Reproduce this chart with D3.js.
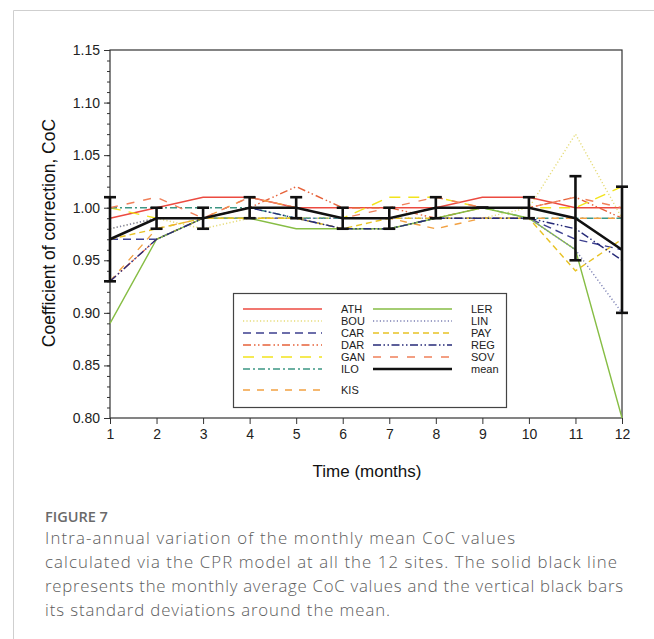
<!DOCTYPE html>
<html>
<head>
<meta charset="utf-8">
<script src="https://cdn.jsdelivr.net/npm/d3@7"></script>
<style>
  body { margin: 0; background: #fff; }
  svg { display: block; }
</style>
</head>
<body>
<div id="chart"></div>
<script>
"use strict";

// monthly CoC values
var months = [1, 2, 3, 4, 5, 6, 7, 8, 9, 10, 11, 12];
var ATH = [0.99, 1.00, 1.01, 1.01, 1.00, 1.00, 1.00, 1.00, 1.01, 1.01, 1.00, 1.00];
var BOU = [0.98, 0.99, 0.98, 0.99, 0.99, 0.98, 0.98, 0.99, 0.99, 1.00, 1.07, 0.99];
var CAR = [0.97, 0.97, 0.99, 0.99, 0.99, 0.98, 0.98, 0.99, 0.99, 0.99, 0.97, 0.96];
var DAR = [0.93, 0.97, 0.99, 1.00, 1.02, 1.00, 1.00, 0.99, 1.00, 1.00, 1.01, 0.99];
var GAN = [1.00, 0.99, 0.99, 0.99, 0.99, 0.99, 1.01, 1.01, 1.00, 1.00, 1.00, 1.02];
var ILO = [1.00, 1.00, 1.00, 1.00, 0.99, 0.99, 0.99, 1.00, 1.00, 0.99, 0.99, 0.99];
var KIS = [0.93, 0.98, 0.99, 1.01, 1.00, 0.99, 0.99, 0.98, 0.99, 0.99, 0.99, 0.99];
var LER = [0.89, 0.97, 0.99, 0.99, 0.98, 0.98, 0.98, 0.99, 1.00, 0.99, 0.96, 0.80];
var LIN = [0.98, 0.99, 0.99, 0.99, 0.99, 0.99, 0.99, 0.99, 0.99, 0.99, 0.96, 0.90];
var PAY = [0.97, 0.98, 0.99, 0.99, 0.99, 0.98, 0.99, 0.99, 0.99, 0.99, 0.94, 0.97];
var REG = [0.93, 0.97, 0.99, 1.00, 0.99, 0.98, 0.98, 0.99, 0.99, 0.99, 0.98, 0.95];
var SOV = [1.00, 1.01, 0.99, 1.01, 1.00, 0.99, 1.00, 1.01, 1.00, 1.00, 1.01, 1.00];
var meanCoC = [0.97, 0.99, 0.99, 1.00, 1.00, 0.99, 0.99, 1.00, 1.00, 1.00, 0.99, 0.96];
var sdCoC = [0.04, 0.01, 0.01, 0.01, 0.01, 0.01, 0.01, 0.01, 0.00, 0.01, 0.04, 0.06];
var yTickValues = [0.80, 0.85, 0.90, 0.95, 1.00, 1.05, 1.10, 1.15];

var sites = [
    {name: "ATH", values: ATH}, {name: "BOU", values: BOU}, {name: "CAR", values: CAR},
    {name: "DAR", values: DAR}, {name: "GAN", values: GAN}, {name: "ILO", values: ILO},
    {name: "KIS", values: KIS}, {name: "LER", values: LER}, {name: "LIN", values: LIN},
    {name: "PAY", values: PAY}, {name: "REG", values: REG}, {name: "SOV", values: SOV}
];

// line styles per site
var siteStyle = {
    ATH: {color: "#ec4a40", dash: null},
    BOU: {color: "#e6dc7a", dash: "1.2,2.2"},
    CAR: {color: "#3c3f8f", dash: "8,5"},
    DAR: {color: "#e6623a", dash: "8,3,1.5,2.5,1.5,3"},
    GAN: {color: "#f2e41c", dash: "11,8"},
    ILO: {color: "#3d9684", dash: "7,3,2,3"},
    KIS: {color: "#f2a142", dash: "7,7"},
    LER: {color: "#86bd44", dash: null},
    LIN: {color: "#7c80b4", dash: "1.2,2.2"},
    PAY: {color: "#e8c224", dash: "6,4"},
    REG: {color: "#262a78", dash: "8,2.5,1.5,2.5,1.5,2.5"},
    SOV: {color: "#f0805a", dash: "8,9"}
};

// caption lines and the width each one spans in the figure
var caption = [
    "Intra-annual variation of the monthly mean CoC values",
    "calculated via the CPR model at all the 12 sites. The solid black line",
    "represents the monthly average CoC values and the vertical black bars",
    "its standard deviations around the mean."
];
var captionWidth = [470, 572, 578, 345];

function drawChart()
{
    var w = 654;
    var h = 639;
    var left = 110, right = 622, top = 50, bottom = 418;

    var svg = d3.select("#chart")
                .append("svg")
                .attr("width", w)
                .attr("height", h);

    // card border
    svg.append("path")
        .attr("d", "M13.5," + h + " L13.5,10.5 L" + w + ",10.5")
        .attr("fill", "none")
        .attr("stroke", "#cfcfcf")
        .attr("stroke-width", 1);

    var x = d3.scaleLinear().domain([1, 12]).range([left, right]);
    var y = d3.scaleLinear().domain([0.80, 1.15]).range([bottom, top]);

    // minor y ticks
    svg.append("g")
        .attr("transform", "translate(" + left + ",0)")
        .call(d3.axisLeft(y)
            .tickValues(d3.range(80, 116).map(function(d) { return d / 100; }))
            .tickSize(3)
            .tickFormat(""))
        .call(function(g) { g.select(".domain").remove(); })
        .selectAll("line").attr("stroke", "#333");

    var yAxis = svg.append("g")
        .attr("transform", "translate(" + left + ",0)")
        .call(d3.axisLeft(y)
            .tickValues(yTickValues)
            .tickSize(6)
            .tickPadding(4)
            .tickFormat(d3.format(".2f")));
    yAxis.select(".domain").remove();
    yAxis.selectAll("line").attr("stroke", "#333");
    yAxis.selectAll("text")
        .style("font-family", "'Liberation Sans', Arial, sans-serif")
        .style("font-size", "14px")
        .attr("fill", "#222");

    var xAxis = svg.append("g")
        .attr("transform", "translate(0," + bottom + ")")
        .call(d3.axisBottom(x)
            .tickValues(months)
            .tickSize(6)
            .tickPadding(5)
            .tickFormat(d3.format("d")));
    xAxis.select(".domain").remove();
    xAxis.selectAll("line").attr("stroke", "#333");
    xAxis.selectAll("text")
        .style("font-family", "'Liberation Sans', Arial, sans-serif")
        .style("font-size", "14px")
        .attr("fill", "#222");

    // frame
    svg.append("rect")
        .attr("x", left)
        .attr("y", top)
        .attr("width", right - left)
        .attr("height", bottom - top)
        .attr("fill", "none")
        .attr("stroke", "#333")
        .attr("stroke-width", 1.2);

    var line = d3.line()
        .x(function(d, i) { return x(months[i]); })
        .y(function(d) { return y(d); });

    svg.selectAll("path.site")
        .data(sites)
        .enter()
        .append("path")
        .attr("class", "site")
        .attr("d", function(d) { return line(d.values); })
        .attr("fill", "none")
        .attr("stroke", function(d) { return siteStyle[d.name].color; })
        .attr("stroke-width", 1.4)
        .attr("stroke-dasharray", function(d) { return siteStyle[d.name].dash; });

    // mean line
    svg.append("path")
        .attr("d", line(meanCoC))
        .attr("fill", "none")
        .attr("stroke", "#111")
        .attr("stroke-width", 2.6);

    // standard deviation bars
    var bars = svg.selectAll("g.sd")
        .data(meanCoC)
        .enter()
        .append("g")
        .attr("class", "sd")
        .attr("stroke", "#111")
        .attr("stroke-width", 2.6);

    bars.append("line")
        .attr("x1", function(d, i) { return x(months[i]); })
        .attr("x2", function(d, i) { return x(months[i]); })
        .attr("y1", function(d, i) { return y(d - sdCoC[i]); })
        .attr("y2", function(d, i) { return y(d + sdCoC[i]); });
    bars.append("line")
        .attr("x1", function(d, i) { return x(months[i]) - 6; })
        .attr("x2", function(d, i) { return x(months[i]) + 6; })
        .attr("y1", function(d, i) { return y(d + sdCoC[i]); })
        .attr("y2", function(d, i) { return y(d + sdCoC[i]); });
    bars.append("line")
        .attr("x1", function(d, i) { return x(months[i]) - 6; })
        .attr("x2", function(d, i) { return x(months[i]) + 6; })
        .attr("y1", function(d, i) { return y(d - sdCoC[i]); })
        .attr("y2", function(d, i) { return y(d - sdCoC[i]); });

    // axis titles
    svg.append("text")
        .text("Coefficient of correction, CoC")
        .attr("transform", "translate(55,233) rotate(-90)")
        .style("text-anchor", "middle")
        .style("font-family", "'Liberation Sans', Arial, sans-serif")
        .style("font-size", "17.5px")
        .attr("fill", "#111");

    svg.append("text")
        .text("Time (months)")
        .attr("x", 367)
        .attr("y", 477)
        .style("text-anchor", "middle")
        .style("font-family", "'Liberation Sans', Arial, sans-serif")
        .style("font-size", "17px")
        .attr("fill", "#111");

    // legend
    svg.append("rect")
        .attr("x", 233.5)
        .attr("y", 293.5)
        .attr("width", 273)
        .attr("height", 114)
        .attr("fill", "#fff")
        .attr("stroke", "#444")
        .attr("stroke-width", 1.2);

    var legendItems = sites.map(function(s) { return {name: s.name, color: siteStyle[s.name].color, dash: siteStyle[s.name].dash, width: 1.4}; });
    legendItems.push({name: "mean", color: "#111", dash: null, width: 2.6});

    var legend = svg.selectAll(".legend")
        .data(legendItems)
        .enter().append("g")
        .attr("class", "legend")
        .attr("transform", function(d, i) {
            var col = i < 7 ? 0 : 1;
            var row = i < 7 ? i : i - 7;
            var yy = (col === 0 && row === 6) ? 390 : 309 + row * 12;
            return "translate(" + (243 + col * 130) + "," + yy + ")";
        });

    legend.append("line")
        .attr("x1", 0)
        .attr("x2", 79)
        .attr("stroke", function(d) { return d.color; })
        .attr("stroke-width", function(d) { return d.width; })
        .attr("stroke-dasharray", function(d) { return d.dash; });

    legend.append("text")
        .text(function(d) { return d.name; })
        .attr("x", 98)
        .attr("y", 4)
        .style("font-family", "'Liberation Sans', Arial, sans-serif")
        .style("font-size", "11px")
        .attr("fill", "#222");

    // caption
    svg.append("text")
        .text("FIGURE 7")
        .attr("x", 45)
        .attr("y", 522)
        .style("font-family", "'Open Sans', sans-serif")
        .style("font-size", "14.5px")
        .style("font-weight", "600")
        .attr("fill", "#6a6a6a");

    svg.selectAll("text.caption")
        .data(caption)
        .enter()
        .append("text")
        .attr("class", "caption")
        .text(function(d) { return d; })
        .attr("x", 45)
        .attr("y", function(d, i) { return 544 + i * 24; })
        .attr("textLength", function(d, i) { return captionWidth[i]; })
        .attr("lengthAdjust", "spacing")
        .style("font-family", "'Open Sans', sans-serif")
        .style("font-size", "16.8px")
        .style("font-weight", "300")
        .attr("fill", "#5c5c5c");
}

window.addEventListener('load', function () {
    drawChart();
});
</script>
</body>
</html>
